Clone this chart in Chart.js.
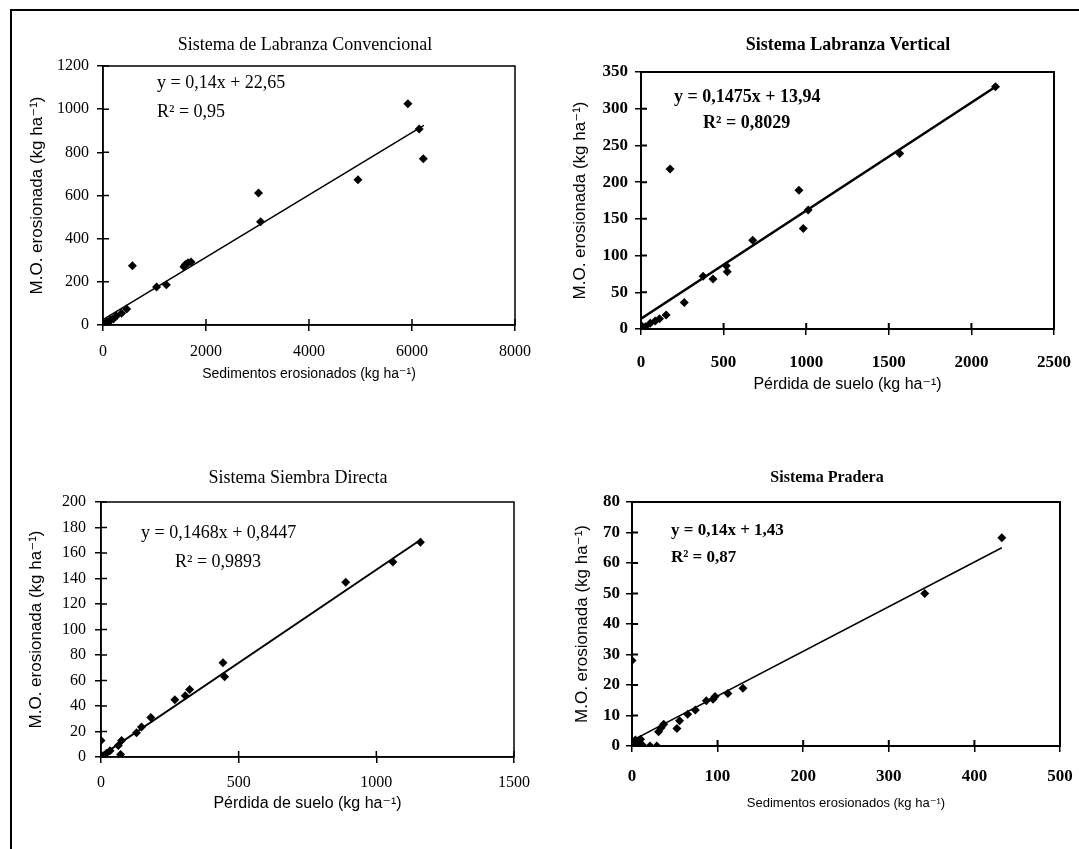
<!DOCTYPE html>
<html>
<head>
<meta charset="utf-8">
<script src="https://cdn.jsdelivr.net/npm/chart.js@4.4.1/dist/chart.umd.min.js"></script>
<style>
  body { margin: 0; background: #fff; width: 1079px; height: 849px; position: relative; overflow: hidden; }
  .frame { position: absolute; left: 10px; top: 9px; width: 1100px; height: 900px; border-left: 2px solid #000; border-top: 2px solid #000; }
  canvas { position: absolute; }
</style>
</head>
<body>
<div class="frame"></div>
<canvas id="c1"></canvas>
<canvas id="c2"></canvas>
<canvas id="c3"></canvas>
<canvas id="c4"></canvas>
<script>
// Sistema de Labranza Convencional
const convX = [0, 40, 80, 100, 150, 200, 260, 360, 460, 570, 1040, 1230, 1570, 1600, 1650, 1710, 3020, 3060, 4950, 5920, 6140, 6220];
const convY = [3, 8, 14, 10, 25, 28, 42, 55, 74, 275, 176, 186, 270, 280, 288, 292, 612, 478, 673, 1025, 908, 770];

// Sistema Labranza Vertical
const vertX = [0, 6, 26, 56, 86, 112, 152, 176, 262, 376, 436, 516, 522, 676, 956, 982, 1012, 1566, 2146];
const vertY = [5, 2, 3, 8, 11, 14, 19, 218, 36, 72, 68, 86, 78, 121, 189, 137, 162, 239, 330];

// Sistema Siembra Directa
const sdX = [0, 8, 20, 33, 63, 71, 75, 129, 147, 181, 268, 306, 322, 443, 449, 889, 1060, 1160];
const sdY = [13, 1, 3, 5, 9, 2, 13, 19, 23.5, 31, 45, 48, 53, 74, 63, 137, 153, 168.5];

// Sistema Pradera
const pradX = [0, 0, 2, 4, 6, 8, 10, 12, 21, 29, 31, 34, 37, 52.5, 55.6, 65, 74, 86.8, 94.6, 97, 112, 129.6, 342, 432];
const pradY = [28, 0.2, 1, 2, 1.1, 1.4, 2.2, 0.3, 0, 0, 4.7, 6, 7.1, 5.7, 8.3, 10.4, 11.8, 14.8, 15.3, 16.2, 17.2, 18.9, 50, 68.3];

// trend lines as drawn in the picture (start at x = 0)
const trendY0 = [25, 14, 0.8, 1.8];
const trendX1 = [6230, 2160, 1165, 432];
const trendY1 = [925, 332, 171, 65];

// axis ranges
const xMax = [8000, 2500, 1500, 500];
const xStep = [2000, 500, 500, 100];
const yMax = [1200, 350, 200, 80];
const yStep = [200, 50, 20, 10];

const titles = ['Sistema de Labranza Convencional', 'Sistema Labranza Vertical', 'Sistema Siembra Directa', 'Sistema Pradera'];
const equations = ['y = 0,14x + 22,65', 'y = 0,1475x + 13,94', 'y = 0,1468x + 0,8447', 'y = 0,14x + 1,43'];
const rSquared = ['R² = 0,95', 'R² = 0,8029', 'R² = 0,9893', 'R² = 0,87'];
const xTitles = ['Sedimentos erosionados (kg ha⁻¹)', 'Pérdida de suelo (kg ha⁻¹)', 'Pérdida de suelo (kg ha⁻¹)', 'Sedimentos erosionados (kg ha⁻¹)'];
const yTitle = 'M.O. erosionada (kg ha⁻¹)';

const SERIF = "'Liberation Serif', 'Times New Roman', serif";
const SANS = "'Liberation Sans', Arial, 'DejaVu Sans', sans-serif";

const panels = [
  { id: 'c1', xs: convX, ys: convY, area: { l: 103, t: 66, r: 515, b: 325 }, cv: { l: 15, t: 12, r: 545 },
    bold: false, tick: 16, xPad: 11, yPad: 8, xTitleY: 374, xTitleSize: 14, yTitleX: 37, lw: 1.5,
    title: { x: 305, y: 45, size: 18 }, eq: { x: 157, y: 83 }, r2: { x: 157, y: 112 }, eqSize: 18 },
  { id: 'c2', xs: vertX, ys: vertY, area: { l: 641, t: 72, r: 1054, b: 329 }, cv: { l: 560, t: 12, r: 1075 },
    bold: true, tick: 17, xPad: 17, yPad: 7, xTitleY: 385, xTitleSize: 16, yTitleX: 580, lw: 2.5,
    title: { x: 848, y: 45, size: 18 }, eq: { x: 674, y: 97 }, r2: { x: 703, y: 123 }, eqSize: 18 },
  { id: 'c3', xs: sdX, ys: sdY, area: { l: 101, t: 502, r: 514, b: 757 }, cv: { l: 15, t: 440, r: 545 },
    bold: false, tick: 16, xPad: 10, yPad: 9, xTitleY: 804, xTitleSize: 16, yTitleX: 36, lw: 2,
    title: { x: 298, y: 478, size: 18 }, eq: { x: 141, y: 533 }, r2: { x: 175, y: 562 }, eqSize: 18 },
  { id: 'c4', xs: pradX, ys: pradY, area: { l: 632, t: 502, r: 1060, b: 746 }, cv: { l: 560, t: 440, r: 1075 },
    bold: true, tick: 17, xPad: 14, yPad: 6, xTitleY: 803, xTitleSize: 13, yTitleX: 582, lw: 1.5,
    title: { x: 827, y: 478, size: 16 }, eq: { x: 671, y: 531 }, r2: { x: 671, y: 558 }, eqSize: 17 },
];

// box around the plot area and ticks that cross the axes
const boxTicks = {
  id: 'boxTicks',
  afterDatasetsDraw(chart, args, opts) {
    const { ctx, chartArea: a, scales } = chart;
    ctx.save();
    ctx.strokeStyle = '#000';
    ctx.lineWidth = opts.width;
    ctx.strokeRect(a.left, a.top, a.right - a.left, a.bottom - a.top);
    ctx.beginPath();
    scales.x.ticks.forEach(t => {
      const px = scales.x.getPixelForValue(t.value);
      ctx.moveTo(px, a.bottom);
      ctx.lineTo(px, a.bottom - 6);
    });
    scales.y.ticks.forEach(t => {
      const py = scales.y.getPixelForValue(t.value);
      ctx.moveTo(a.left, py);
      ctx.lineTo(a.left + 6, py);
    });
    ctx.stroke();
    ctx.restore();
  }
};

const panelText = {
  id: 'panelText',
  afterDraw(chart, args, opts) {
    const ctx = chart.ctx;
    ctx.save();
    ctx.fillStyle = '#000';
    ctx.textBaseline = 'middle';
    opts.items.forEach(t => {
      ctx.font = t.font;
      ctx.textAlign = t.align;
      ctx.fillText(t.text, t.x, t.y);
    });
    ctx.restore();
  }
};

panels.forEach((p, i) => {
  const canvas = document.getElementById(p.id);
  const bottom = p.xTitleY + 12;
  const W = p.cv.r - p.cv.l;
  const H = bottom - p.cv.t;
  canvas.width = W;
  canvas.height = H;
  canvas.style.left = p.cv.l + 'px';
  canvas.style.top = p.cv.t + 'px';

  const weight = p.bold ? 'bold' : 'normal';
  const xTitleLh = p.xTitleSize * 1.2;
  const yTitleLh = 17 * 1.2;

  const points = p.xs.map((x, k) => ({ x, y: p.ys[k] }));
  const trend = [{ x: 0, y: trendY0[i] }, { x: trendX1[i], y: trendY1[i] }];

  const fontStr = (size, w, fam) => `${w} ${size}px ${fam}`;

  new Chart(canvas, {
    type: 'scatter',
    data: {
      datasets: [
        { data: points, pointStyle: 'rectRot', pointRadius: 4.5, backgroundColor: '#000', borderWidth: 0 },
        { data: trend, showLine: true, pointRadius: 0, borderColor: '#000', borderWidth: p.lw, fill: false },
      ],
    },
    options: {
      responsive: false,
      animation: false,
      layout: {
        padding: { left: 0, top: p.area.t - p.cv.t, right: p.cv.r - p.area.r, bottom: 0 },
      },
      scales: {
        x: {
          type: 'linear',
          min: 0,
          max: xMax[i],
          afterFit: s => {
            s.height = bottom - p.area.b;
            s.paddingLeft = 0;
            s.paddingRight = 0;
          },
          ticks: {
            stepSize: xStep[i],
            color: '#000',
            padding: p.xPad,
            maxRotation: 0,
            callback: v => String(v),
            font: { family: SERIF, size: p.tick, weight },
          },
          grid: { drawOnChartArea: false, drawTicks: true, tickLength: 6, color: '#000', lineWidth: 1.5 },
          border: { display: true, color: '#000', width: 1.5 },
          title: {
            display: true,
            text: xTitles[i],
            color: '#000',
            font: { family: SANS, size: p.xTitleSize },
            padding: { top: 0, bottom: 12 - xTitleLh / 2 },
          },
        },
        y: {
          type: 'linear',
          min: 0,
          max: yMax[i],
          afterFit: s => {
            s.width = p.area.l - p.cv.l;
            s.paddingTop = 0;
            s.paddingBottom = 0;
          },
          ticks: {
            stepSize: yStep[i],
            color: '#000',
            padding: p.yPad,
            callback: v => String(v),
            font: { family: SERIF, size: p.tick, weight },
          },
          grid: { drawOnChartArea: false, drawTicks: true, tickLength: 6, color: '#000', lineWidth: 1.5 },
          border: { display: true, color: '#000', width: 1.5 },
          title: {
            display: true,
            text: yTitle,
            color: '#000',
            font: { family: SANS, size: 17 },
            padding: { top: p.yTitleX - p.cv.l - yTitleLh / 2, bottom: 0 },
          },
        },
      },
      plugins: {
        legend: { display: false },
        tooltip: { enabled: false },
        boxTicks: { width: p.bold ? 2 : 1.5 },
        panelText: {
          items: [
            { text: titles[i], x: p.title.x - p.cv.l, y: p.title.y - p.cv.t, align: 'center',
              font: fontStr(p.title.size, weight, SERIF) },
            { text: equations[i], x: p.eq.x - p.cv.l, y: p.eq.y - p.cv.t, align: 'left',
              font: fontStr(p.eqSize, weight, SERIF) },
            { text: rSquared[i], x: p.r2.x - p.cv.l, y: p.r2.y - p.cv.t, align: 'left',
              font: fontStr(p.eqSize, weight, SERIF) },
          ],
        },
      },
    },
    plugins: [boxTicks, panelText],
  });
});
</script>
</body>
</html>
